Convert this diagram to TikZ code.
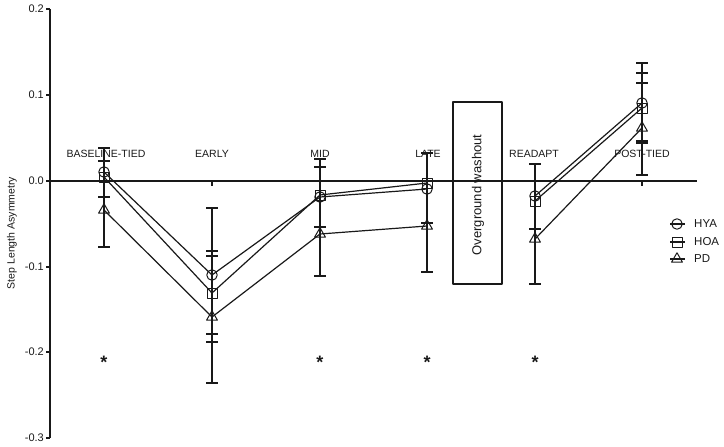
\documentclass[tikz,border=0pt]{standalone}
\usepackage{fontspec}
\setmainfont{Liberation Sans}
\usetikzlibrary{shapes.geometric}
\definecolor{ink}{RGB}{25,25,25}
\begin{document}
\begin{tikzpicture}[x=1pt,y=-1pt,line join=round,
  axisline/.style={line width=1.6pt,draw=ink},
  dataline/.style={line width=1.2pt,draw=ink},
  ebar/.style={line width=1.4pt,draw=ink},
  hya/.style={circle,draw=ink,line width=1pt,minimum size=10.5pt,inner sep=0pt},
  hoa/.style={rectangle,draw=ink,line width=1pt,minimum size=10pt,inner sep=0pt},
  pd/.style={regular polygon,regular polygon sides=3,draw=ink,line width=1pt,minimum size=12.5pt,inner sep=0pt},
  lbl/.style={font=\fontsize{10.5}{12}\selectfont,text=ink,inner sep=0pt},
  star/.style={font=\fontsize{18}{19}\selectfont\bfseries,text=ink,inner sep=0pt,anchor=base}]
\useasboundingbox (0,0) rectangle (724,447);

% y axis
\coordinate (ytop) at (50,9);
\coordinate (ybot) at (50,438);
\draw[axisline] (ytop) -- (ybot);
\foreach \v/\t [count=\i] in {9/0.2,95/0.1,181/0.0,267/-0.1,352/-0.2,438/-0.3}{
  \draw[axisline] (46,\v) -- (50,\v);
  \node[lbl,anchor=east,font=\fontsize{11}{12}\selectfont] (yt\i) at (44,\v) {\t};
}
\node[lbl,rotate=90,font=\fontsize{10.5}{12}\selectfont] (ylab) at (12,233) {Step Length Asymmetry};

% zero line
\coordinate (z0) at (50,181);
\coordinate (z1) at (697,181);
\draw[axisline] (z0) -- (z1);
\foreach \x in {104,212,320,427,535,642}{
  \draw[axisline,line width=1.2pt] (\x,181) -- (\x,186);
}

% category labels
\node[lbl] (cbase) at (106,154) {BASELINE-TIED};
\node[lbl] (cearly) at (212,154) {EARLY};
\node[lbl] (cmid) at (320,154) {MID};
\node[lbl] (clate) at (428,154) {LATE};
\node[lbl] (cread) at (534,154) {READAPT};
\node[lbl] (cpost) at (642,154) {POST-TIED};

% washout box
\draw[ink,line width=2pt] (453,102) rectangle (502,284);
\node[lbl,rotate=90,font=\fontsize{13}{14}\selectfont] (wash) at (478,195) {Overground washout};

% error bars
\foreach \x/\a/\b/\caps in {104/148/247/{148,161,197,247},
                            212/208/383/{208,251,256,334,342,383},
                            320/159/276/{159,167,227,276},
                            427/153/272/{153,223,272},
                            535/164/284/{164,229,284},
                            642/63/175/{63,73,83,141,143,175}}{
  \draw[ebar] (\x,\a) -- (\x,\b);
  \foreach \c in \caps { \draw[ebar] (\x-6,\c) -- (\x+6,\c); }
}

% markers
\node[hya] (a1) at (104,172) {};
\node[hya] (a2) at (212,275) {};
\node[hya] (a3) at (320,197) {};
\node[hya] (a4) at (427,189) {};
\node[hya] (a5) at (535,196) {};
\node[hya] (a6) at (642,103) {};
\node[hoa] (b1) at (104,177) {};
\node[hoa] (b2) at (212,293) {};
\node[hoa] (b3) at (320,195) {};
\node[hoa] (b4) at (427,183) {};
\node[hoa] (b5) at (535,201) {};
\node[hoa] (b6) at (642,108) {};
\node[pd] (c1) at (104,210) {};
\node[pd] (c2) at (212,317) {};
\node[pd] (c3) at (320,234) {};
\node[pd] (c4) at (427,226) {};
\node[pd] (c5) at (535,239) {};
\node[pd] (c6) at (642,128) {};

% series lines
\draw[dataline] (a1.center) -- (a2.center) -- (a3.center) -- (a4.center);
\draw[dataline] (a5.center) -- (a6.center);
\draw[dataline] (b1.center) -- (b2.center) -- (b3.center) -- (b4.center);
\draw[dataline] (b5.center) -- (b6.center);
\draw[dataline] (c1.center) -- (c2.center) -- (c3.center) -- (c4.center);
\draw[dataline] (c5.center) -- (c6.center);

% significance stars
\node[star] (s1) at (104,368) {*};
\node[star] (s2) at (320,368) {*};
\node[star] (s3) at (427,368) {*};
\node[star] (s4) at (535,368) {*};

% legend
\node[hya] (la) at (677,224) {};
\node[hoa] (lb) at (677,242) {};
\node[pd] (lc) at (677,259) {};
\draw[dataline] ([xshift=-7pt]la.center) -- ([xshift=8pt]la.center);
\draw[dataline] ([xshift=-7pt]lb.center) -- ([xshift=8pt]lb.center);
\draw[dataline] ([xshift=-7pt]lc.center) -- ([xshift=8pt]lc.center);
\node[lbl,anchor=west,font=\fontsize{11.5}{13}\selectfont] (ta) at (694,224) {HYA};
\node[lbl,anchor=west,font=\fontsize{11.5}{13}\selectfont] (tb) at (694,242) {HOA};
\node[lbl,anchor=west,font=\fontsize{11.5}{13}\selectfont] (tc) at (694,259) {PD};
\end{tikzpicture}
\end{document}
